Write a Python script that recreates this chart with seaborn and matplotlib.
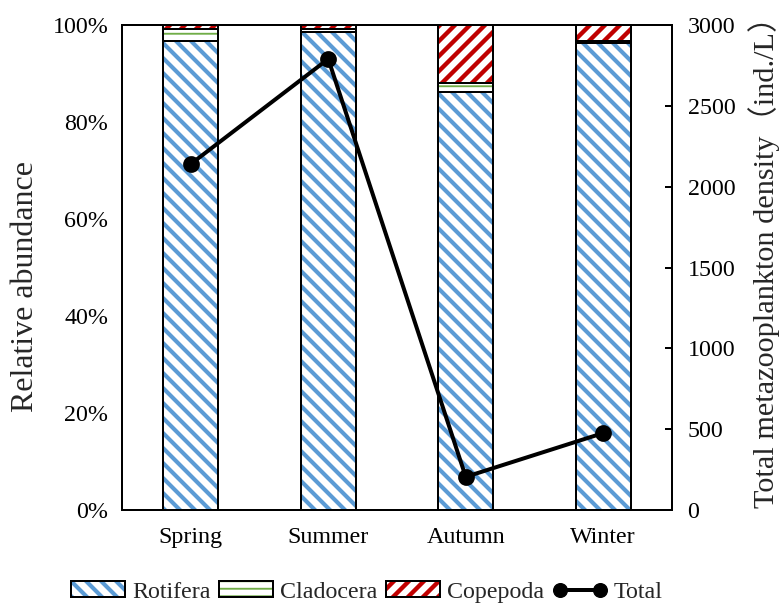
import matplotlib
matplotlib.use("Agg")
import matplotlib.pyplot as plt
from matplotlib.patches import Patch
from matplotlib.lines import Line2D
from matplotlib.legend_handler import HandlerPatch
import numpy as np
import pandas as pd
import seaborn as sns

# Seasonal composition (%) and total density (ind./L)
seasons = ["Spring", "Summer", "Autumn", "Winter"]
rotifera = [96.8, 98.5, 86.2, 96.3]
cladocera = [2.3, 0.6, 1.8, 0.3]
copepoda = [0.9, 0.9, 12.0, 3.4]
total = [2140, 2790, 205, 476]

pct_ticks = [0, 20, 40, 60, 80, 100]
pct_labels = ["0%", "20%", "40%", "60%", "80%", "100%"]
dens_ticks = [0, 500, 1000, 1500, 2000, 2500, 3000]

sns.set_theme(style="white")
plt.rcParams["font.family"] = ["Liberation Serif", "DejaVu Serif"]
plt.rcParams["hatch.linewidth"] = 3.2

blue = "#5B9BD5"
green = "#70AD47"
red = "#C00000"

DPI = 90
W, H = 785, 604
fig = plt.figure(figsize=(W / DPI, H / DPI), dpi=DPI)
ax = fig.add_axes([122 / W, 1 - 510 / H, 550 / W, 485 / H])

df = pd.DataFrame({"season": seasons, "Rotifera": rotifera,
                   "Cladocera": cladocera, "Copepoda": copepoda})
# group name, hatch colour, hatch pattern, hatch line width
styles = [("Rotifera", blue, "\\\\", 3.3), ("Cladocera", green, "--", 1.5),
          ("Copepoda", red, "//", 3.5)]

bottoms = np.zeros(len(seasons))
width = 0.4
for name, col, hatch, hlw in styles:
    n_before = len(ax.patches)
    with plt.rc_context({"hatch.linewidth": hlw}):
        # hatched fill (hatch takes the edge colour)
        sns.barplot(data=df, x="season", y=name, ax=ax, width=width,
                    color="white", edgecolor=col, hatch=hatch, linewidth=0,
                    bottom=bottoms, saturation=1, errorbar=None)
    for p in ax.patches[n_before:]:
        if hasattr(p, "set_hatch_linewidth"):
            p.set_hatch_linewidth(hlw)
    # black outline on top
    sns.barplot(data=df, x="season", y=name, ax=ax, width=width,
                color="black", fill=False, edgecolor="black", linewidth=1.6,
                bottom=bottoms, errorbar=None)
    bottoms = bottoms + df[name].to_numpy()

ax.set_ylim(0, 100)
ax.set_xlim(-0.5, 3.5)
ax.set_yticks(pct_ticks)
ax.set_yticklabels(pct_labels)
ax.set_xlabel("")
ax.set_ylabel("Relative abundance", fontsize=25.5)
ax.yaxis.set_label_coords(-0.149, 0.46)
ax.tick_params(axis="y", length=0, labelsize=19.2, pad=11, colors="black")
ax.tick_params(axis="x", length=0, labelsize=19.2, pad=13.5, colors="black")
for s in ax.spines.values():
    s.set_color("black")
    s.set_linewidth(1.6)

ax2 = ax.twinx()
sns.pointplot(x=seasons, y=total, ax=ax2, color="black", markers="o",
              markersize=11, linewidth=3.2, errorbar=None)
ax2.set_xlim(-0.5, 3.5)
ax2.set_ylim(0, 3000)
ax2.set_yticks(dens_ticks)
ax2.set_yticklabels([str(t) for t in dens_ticks])
ax2.set_ylabel("Total metazooplankton density（ind./L）", fontsize=24.2,
               family=["Liberation Serif", "Noto Sans CJK SC"])
ax2.yaxis.set_label_coords(1.138, 0.525)
ax2.tick_params(axis="y", direction="in", length=5.6, width=1.6,
                labelsize=19.2, pad=12.5, colors="black")
for s in ax2.spines.values():
    s.set_color("black")
    s.set_linewidth(1.6)

legend_fills = []
for _, col, hatch, hlw in styles:
    with plt.rc_context({"hatch.linewidth": hlw}):
        p = Patch(facecolor="white", edgecolor=col, hatch=hatch, linewidth=0)
    if hasattr(p, "set_hatch_linewidth"):
        p.set_hatch_linewidth(hlw)
    legend_fills.append(p)
outlines = [Patch(facecolor="none", edgecolor="black", linewidth=1.6)
            for _ in range(3)]
line_h = Line2D([], [], color="black", lw=3.2, marker="o", markersize=11)


def keep_hatch_width(legend_handle, orig_handle):
    legend_handle.update_from(orig_handle)
    if hasattr(orig_handle, "get_hatch_linewidth"):
        legend_handle.set_hatch_linewidth(orig_handle.get_hatch_linewidth())


fig.legend([(legend_fills[0], outlines[0]), (legend_fills[1], outlines[1]),
            (legend_fills[2], outlines[2]), line_h],
           ["Rotifera", "Cladocera", "Copepoda", "Total"],
           handler_map={Patch: HandlerPatch(update_func=keep_hatch_width)},
           loc="center left", bbox_to_anchor=(71 / W, 1 - 592 / H), ncol=4,
           frameon=False, fontsize=19.2, handlelength=2.25, handleheight=0.65,
           handletextpad=0.3, columnspacing=0.35, numpoints=2,
           borderpad=0, borderaxespad=0)

fig.savefig("out.png", dpi=DPI)
